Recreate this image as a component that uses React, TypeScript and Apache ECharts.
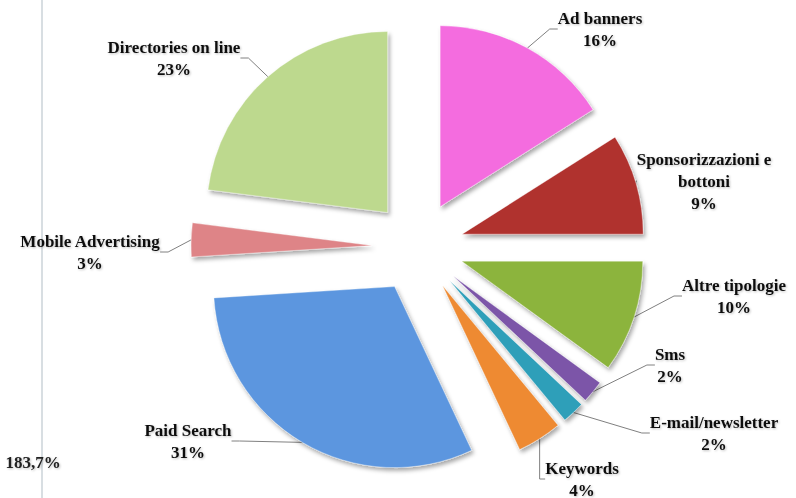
import React, { useEffect, useRef } from "react";
import * as echarts from "echarts";

// Online advertising spend by channel (share of total, %)
const categories = [
  "Ad banners",
  "Sponsorizzazioni e\nbottoni",
  "Altre tipologie",
  "Sms",
  "E-mail/newsletter",
  "Keywords",
  "Paid Search",
  "Mobile Advertising",
  "Directories on line",
];
const shares = [16, 9, 10, 2, 2, 4, 31, 3, 23];
const sliceColors = [
  "#F46CDF",
  "#B0302E",
  "#8CB43C",
  "#7B54A8",
  "#2F9FB9",
  "#EE8A33",
  "#5B96DF",
  "#DE8487",
  "#BDD98E",
];
// Where each slice label sits (px, centre of the text block)
const labelSpots: [number, number][] = [
  [600, 29],
  [704, 181],
  [734, 296],
  [670, 365],
  [714, 433],
  [582, 479],
  [188, 441],
  [90, 252],
  [174, 58],
];
const sideNote = "183,7%";

const PIE_CENTER = [418, 247];
const PIE_RADIUS = 181;
const EXPLODE = 46;

export default function App() {
  const ref = useRef<HTMLDivElement>(null);

  useEffect(() => {
    document.body.style.margin = "0";
    if (!ref.current) return;
    const chart = echarts.init(ref.current, undefined, { renderer: "svg" });
    const font = "'Liberation Serif', 'DejaVu Serif', serif";
    const total = shares.reduce((a, b) => a + b, 0);

    // Each slice is its own pie (slice + invisible remainder) so that it can
    // be pushed outward along its own bisector.
    let cumulative = 0;
    const series = categories.map((name, i) => {
      const startDeg = (cumulative / total) * 360;
      const midDeg = ((cumulative + shares[i] / 2) / total) * 360;
      cumulative += shares[i];
      const rad = (midDeg * Math.PI) / 180;
      const cx = PIE_CENTER[0] + EXPLODE * Math.sin(rad);
      const cy = PIE_CENTER[1] - EXPLODE * Math.cos(rad);
      return {
        type: "pie",
        center: [cx, cy],
        radius: PIE_RADIUS,
        startAngle: 90 - startDeg,
        clockwise: true,
        silent: true,
        avoidLabelOverlap: false,
        emphasis: { disabled: true },
        label: {
          show: true,
          formatter: (p: any) => `${p.name}\n${p.value}%`,
          fontFamily: font,
          fontWeight: "bold",
          fontSize: 17,
          lineHeight: 22,
          color: "#111",
          align: "center",
          textShadowColor: "rgba(0,0,0,0.25)",
          textShadowBlur: 2,
          textShadowOffsetX: 1,
          textShadowOffsetY: 1,
        },
        labelLine: {
          show: true,
          length: 10,
          length2: 8,
          lineStyle: { color: "#808080", width: 1 },
        },
        labelLayout: (p: any) => {
          if (p.dataIndex !== 0) return {};
          const spot = labelSpots[i];
          return {
            x: spot[0],
            y: spot[1],
            align: "center",
            verticalAlign: "middle",
          };
        },
        data: [
          {
            name,
            value: shares[i],
            itemStyle: {
              color: sliceColors[i],
              borderColor: "rgba(255,255,255,0.35)",
              borderWidth: 1,
              shadowBlur: 4,
              shadowOffsetX: 2,
              shadowOffsetY: 3,
              shadowColor: "rgba(0,0,0,0.35)",
            },
          },
          {
            name: "",
            value: total - shares[i],
            itemStyle: { color: "rgba(0,0,0,0)" },
            label: { show: false },
            labelLine: { show: false },
          },
        ],
      };
    });

    chart.setOption({
      animation: false,
      backgroundColor: "#ffffff",
      graphic: [
        {
          type: "line",
          shape: { x1: 42, y1: 0, x2: 42, y2: 498 },
          style: { stroke: "#d8dee2", lineWidth: 2 },
          z: 0,
        },
        {
          type: "text",
          x: 33,
          y: 462,
          z: 10,
          style: {
            text: sideNote,
            font: `bold 17px ${font}`,
            fill: "#222",
            align: "center",
            verticalAlign: "middle",
            textShadowColor: "rgba(0,0,0,0.25)",
            textShadowBlur: 2,
            textShadowOffsetX: 1,
            textShadowOffsetY: 1,
          },
        },
      ],
      series,
    });

    return () => chart.dispose();
  }, []);

  return <div ref={ref} style={{ width: 796, height: 498 }} />;
}
